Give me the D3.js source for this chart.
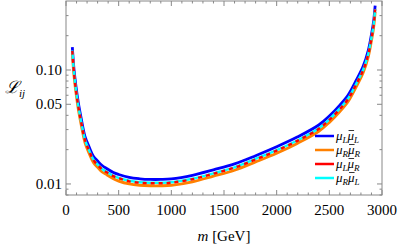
<!DOCTYPE html>
<html>
<head>
<meta charset="utf-8">
<script src="https://cdn.jsdelivr.net/npm/d3@7"></script>
<style>
  body { margin: 0; background: #fff; }
  svg text { font-family: "Liberation Serif", "DejaVu Serif", serif; }
</style>
</head>
<body>
<div id="chart"></div>
<script>
// m values in GeV, shared by all four curves
var masses = [60, 76, 95, 117, 145, 180, 220, 260, 300, 340, 390, 450, 500, 600, 700, 800, 900, 1000,
              1200, 1400, 1600, 1800, 2000, 2200, 2400, 2500, 2600, 2680, 2760, 2820, 2870, 2900, 2920, 2935];
var lumiLL = [0.1588, 0.1011, 0.0713, 0.0515, 0.0373, 0.0262, 0.0211, 0.0175, 0.0159, 0.0146, 0.0136, 0.0126, 0.0121, 0.0114, 0.0111, 0.01096, 0.01096, 0.01107,
              0.0119, 0.0133, 0.0150, 0.0177, 0.0212, 0.0259, 0.0329, 0.0394, 0.0491, 0.0605, 0.0826, 0.107, 0.149, 0.205, 0.265, 0.367];
var lumiRR = [0.1397, 0.0889, 0.0627, 0.0453, 0.0328, 0.0231, 0.0185, 0.0154, 0.0140, 0.0128, 0.0120, 0.0111, 0.0106, 0.0100, 0.00974, 0.00964, 0.00964, 0.00974,
              0.01045, 0.0117, 0.0132, 0.0156, 0.0186, 0.0228, 0.0290, 0.0347, 0.0432, 0.0532, 0.0727, 0.094, 0.131, 0.181, 0.233, 0.323];
var lumiLR = [0.147, 0.0936, 0.066, 0.0477, 0.0345, 0.0243, 0.0195, 0.0162, 0.0147, 0.0135, 0.0126, 0.0117, 0.0112, 0.01055, 0.01025, 0.01015, 0.01015, 0.01025,
              0.0110, 0.0123, 0.0139, 0.0164, 0.0196, 0.0240, 0.0305, 0.0365, 0.0455, 0.0560, 0.0765, 0.099, 0.138, 0.190, 0.245, 0.340];
var lumiRL = [0.1485, 0.0945, 0.0667, 0.0482, 0.0348, 0.0245, 0.0197, 0.0164, 0.0148, 0.0136, 0.0127, 0.0118, 0.0113, 0.01066, 0.01035, 0.01025, 0.01025, 0.01035,
              0.0111, 0.0124, 0.0140, 0.0166, 0.0198, 0.0242, 0.0308, 0.0369, 0.0460, 0.0566, 0.0773, 0.100, 0.139, 0.192, 0.247, 0.343];

var seriesNames = [["L", "L"], ["R", "R"], ["L", "R"], ["R", "L"]];
var seriesColors = ["#0000ff", "#ff8000", "#ff0000", "#00ffff"];

var xTickLabels = [0, 500, 1000, 1500, 2000, 2500, 3000];
var yTickLabels = [0.01, 0.05, 0.1];
var yTickText = ["0.01", "0.05", "0.10"];
var yMinorTicks = [0.008, 0.009, 0.02, 0.03, 0.04, 0.06, 0.07, 0.08, 0.09, 0.2, 0.3];

var width = 399, height = 249;
var margin = { left: 66, right: 17, top: 1, bottom: 54 };
var serif = "Liberation Serif";

var svg = d3.select("#chart")
    .append("svg")
    .attr("width", width)
    .attr("height", height);

var x = d3.scaleLinear()
    .domain([0, 3000])
    .range([margin.left, width - margin.right]);

var y = d3.scaleLog()
    .domain([0.008, 0.403])
    .range([height - margin.bottom, margin.top]);

var frameColor = "#888";

// frame
svg.append("rect")
    .attr("x", x(0))
    .attr("y", y(0.403))
    .attr("width", x(3000) - x(0))
    .attr("height", y(0.008) - y(0.403))
    .attr("fill", "none")
    .attr("stroke", frameColor)
    .attr("stroke-width", 1);

// ticks on all four sides, pointing inward
var xMinor = d3.range(0, 3001, 100);
var ticks = svg.append("g").attr("stroke", frameColor).attr("stroke-width", 1);

xMinor.forEach(function (m) {
    var len = m % 500 === 0 ? 5 : 2.5;
    ticks.append("line").attr("x1", x(m)).attr("x2", x(m))
        .attr("y1", y(0.008)).attr("y2", y(0.008) - len);
    ticks.append("line").attr("x1", x(m)).attr("x2", x(m))
        .attr("y1", y(0.403)).attr("y2", y(0.403) + len);
});

yTickLabels.concat(yMinorTicks).forEach(function (v) {
    var len = yTickLabels.indexOf(v) >= 0 ? 5 : 2.5;
    ticks.append("line").attr("x1", x(0)).attr("x2", x(0) + len)
        .attr("y1", y(v)).attr("y2", y(v));
    ticks.append("line").attr("x1", x(3000)).attr("x2", x(3000) - len)
        .attr("y1", y(v)).attr("y2", y(v));
});

// tick labels
svg.append("g")
    .selectAll("text")
    .data(xTickLabels)
    .enter()
    .append("text")
    .attr("x", function (d) { return x(d); })
    .attr("y", y(0.008) + 20)
    .attr("text-anchor", "middle")
    .attr("font-family", serif)
    .attr("font-size", 15)
    .text(function (d) { return d; });

svg.append("g")
    .selectAll("text")
    .data(yTickLabels)
    .enter()
    .append("text")
    .attr("x", x(0) - 4)
    .attr("y", function (d) { return y(d) + 5; })
    .attr("text-anchor", "end")
    .attr("font-family", serif)
    .attr("font-size", 15)
    .text(function (d, i) { return yTickText[i]; });

// axis titles
var xt = svg.append("text")
    .attr("x", (x(0) + x(3000)) / 2)
    .attr("y", height - 8)
    .attr("text-anchor", "middle")
    .attr("font-family", serif)
    .attr("font-size", 15);
xt.append("tspan").attr("font-style", "italic").text("m");
xt.append("tspan").text(" [GeV]");

var yt = svg.append("text")
    .attr("x", 5)
    .attr("y", 93)
    .attr("font-family", serif)
    .attr("font-size", 17);
yt.append("tspan").attr("font-style", "italic").text("\u2112");
yt.append("tspan").attr("dy", 4).attr("font-size", 11).attr("font-style", "italic").text("ij");

// curves
var allSeries = [lumiLL, lumiRR, lumiLR, lumiRL];
var line = d3.line()
    .x(function (d, i) { return x(masses[i]); })
    .y(function (d) { return y(d); })
    .curve(d3.curveCatmullRom.alpha(0.5));

// cyan solid underneath, red dashed on top so they alternate
var drawOrder = [0, 1, 3, 2];
drawOrder.forEach(function (k) {
    svg.append("path")
        .datum(allSeries[k])
        .attr("d", line)
        .attr("fill", "none")
        .attr("stroke", seriesColors[k])
        .attr("stroke-width", k < 2 ? 2.8 : 2.4)
        .attr("stroke-dasharray", k === 2 ? "4,4" : null);
});

// legend
var legend = svg.append("g");
seriesNames.forEach(function (nm, i) {
    var ly = 136 + i * 14;
    legend.append("line")
        .attr("x1", 315).attr("x2", 334)
        .attr("y1", ly).attr("y2", ly)
        .attr("stroke", seriesColors[i])
        .attr("stroke-width", 2.5);
    var t = legend.append("text")
        .attr("x", 336)
        .attr("y", ly + 4)
        .attr("font-family", serif)
        .attr("font-size", 13);
    t.append("tspan").attr("font-style", "italic").text("\u03bc");
    t.append("tspan").attr("dy", 3).attr("font-size", 9).attr("font-style", "italic").text(nm[0]);
    t.append("tspan").attr("dy", -3).attr("font-style", "italic").text("\u03bc");
    t.append("tspan").attr("dy", 3).attr("font-size", 9).attr("font-style", "italic").text(nm[1]);
    // overbar above the second mu
    var ext = t.node().getExtentOfChar(2);
    legend.append("line")
        .attr("x1", ext.x + 1).attr("x2", ext.x + ext.width)
        .attr("y1", ly - 5.5).attr("y2", ly - 5.5)
        .attr("stroke", "#222")
        .attr("stroke-width", 0.9);
});
</script>
</body>
</html>
